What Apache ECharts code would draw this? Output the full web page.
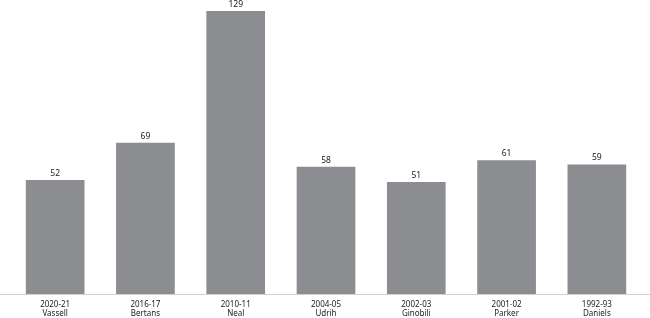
<!DOCTYPE html>
<html><head><meta charset="utf-8">
<script src="https://cdn.jsdelivr.net/npm/echarts@6/dist/echarts.min.js"></script>
<style>html,body{margin:0;padding:0;background:#fff}#c{width:650px;height:318px}</style>
</head><body><div id="c"></div>
<script>
const seasons = ['2020-21','2016-17','2010-11','2004-05','2002-03','2001-02','1992-93'];
const players = ['Vassell','Bertans','Neal','Udrih','Ginobili','Parker','Daniels'];
const values = [52, 69, 129, 58, 51, 61, 59];

const chart = echarts.init(document.getElementById('c'), null, {renderer:'canvas'});
const font = '"Noto Sans", sans-serif';
chart.setOption({
  animation: false,
  grid: [
    {left: 10, right: 8, top: 11, bottom: 24},
    {left: 0, right: 0, top: 11, bottom: 24}
  ],
  xAxis: [{
    type: 'category', gridIndex: 0,
    data: seasons.map((s, i) => s + '\n' + players[i]),
    axisLine: {show: false},
    axisTick: {show: false},
    axisLabel: {fontFamily: font, fontSize: 8, color: '#222', lineHeight: 9, margin: 6}
  }, {
    type: 'category', gridIndex: 1, data: [''],
    axisLine: {show: true, lineStyle: {color: '#d0d0d0', width: 1}},
    axisTick: {show: false}, axisLabel: {show: false}
  }],
  yAxis: [{
    type: 'value', gridIndex: 0, min: 0, max: 129,
    show: false, splitLine: {show: false}
  }, {
    type: 'value', gridIndex: 1, min: 0, max: 129, show: false, splitLine: {show: false}
  }],
  series: [{
    type: 'bar', xAxisIndex: 0, yAxisIndex: 0,
    data: values, barWidth: '65%',
    itemStyle: {color: '#8b8d90'},
    label: {show: true, position: 'top', distance: 2, lineHeight: 9, fontFamily: font, fontSize: 8.5, color: '#222'}
  }]
});
</script></body></html>
